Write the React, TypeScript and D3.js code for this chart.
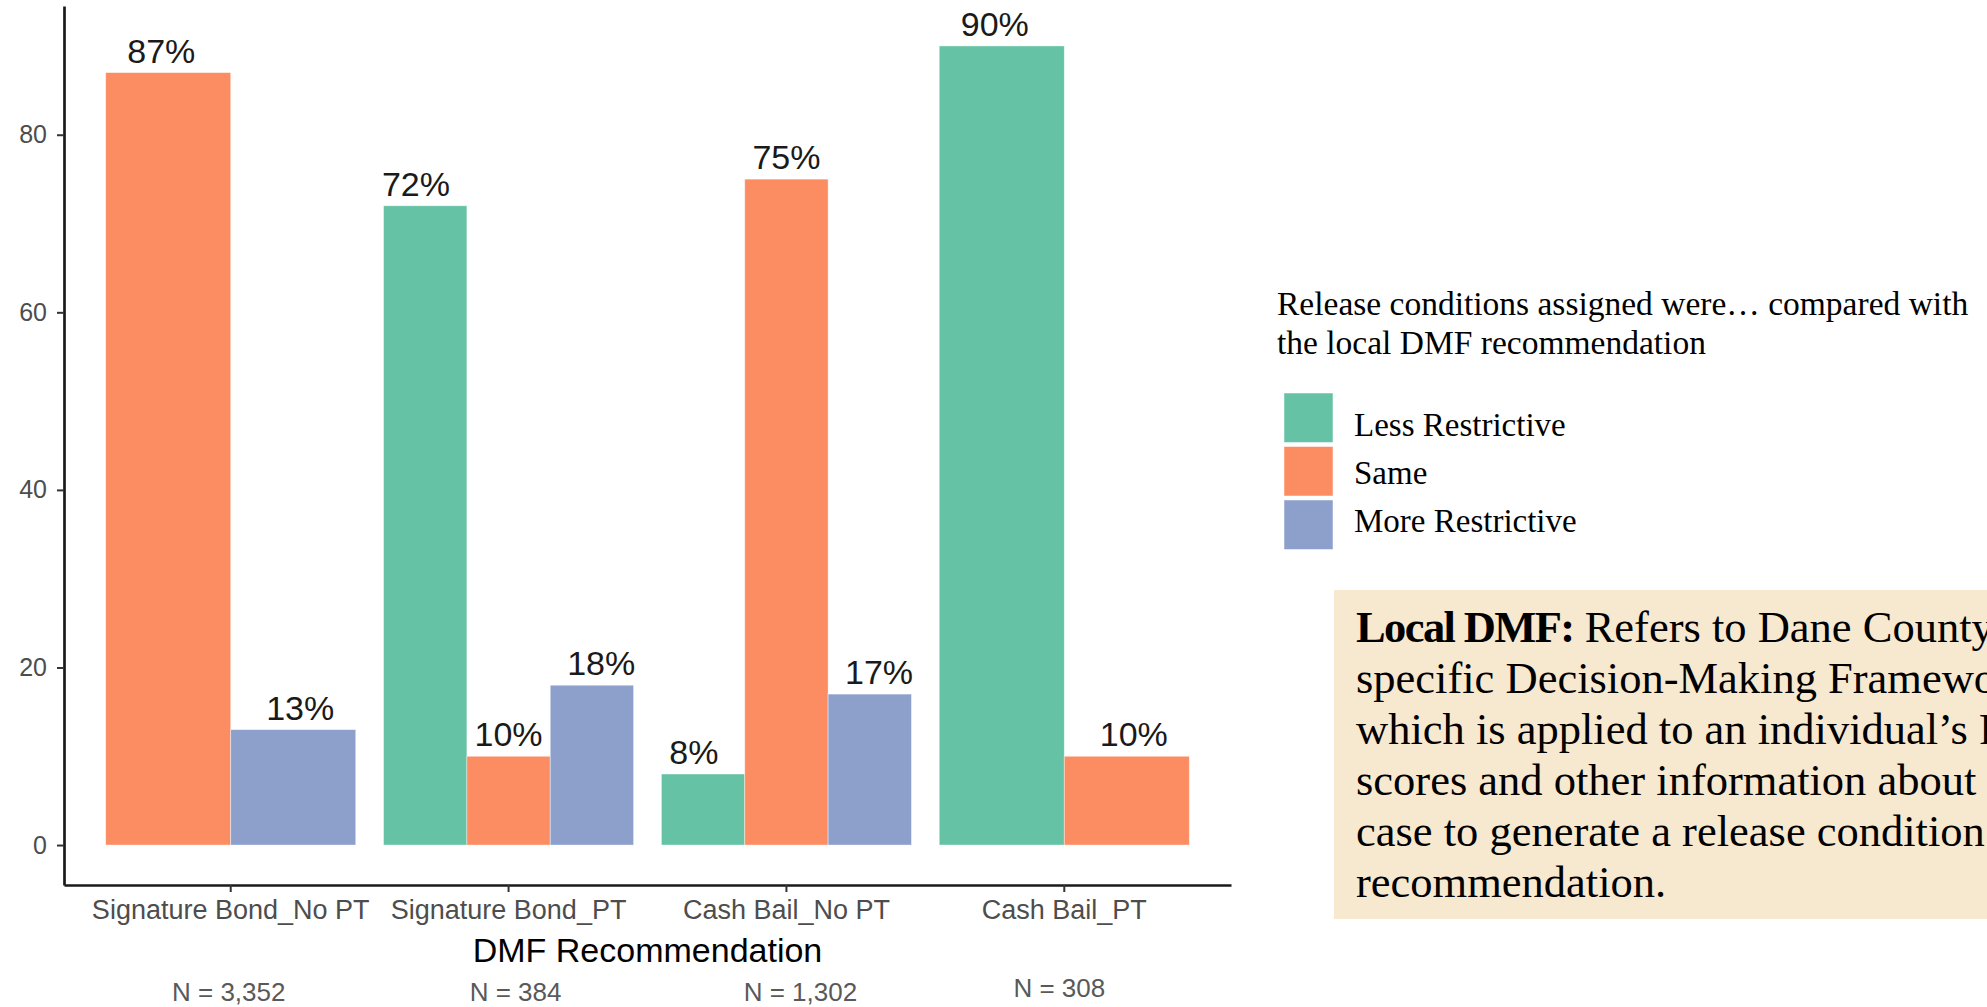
import { useRef, useEffect } from 'react'
import * as d3 from 'd3'

const CATEGORIES = ['Signature Bond_No PT', 'Signature Bond_PT', 'Cash Bail_No PT', 'Cash Bail_PT']
const SERIES = ['Less Restrictive', 'Same', 'More Restrictive']
const LESS_RESTRICTIVE: (number | null)[] = [null, 72, 8, 90]
const SAME: (number | null)[] = [87, 10, 75, 10]
const MORE_RESTRICTIVE: (number | null)[] = [13, 18, 17, null]
const N_LABELS = ['N = 3,352', 'N = 384', 'N = 1,302', 'N = 308']
const Y_TICKS = [0, 20, 40, 60, 80]

const LEGEND_TITLE = ['Release conditions assigned were\u2026 compared with', 'the local DMF recommendation']
const NOTE_LINES = [
  "Refers to Dane County\u2019s",
  'specific Decision-Making Framework,',
  'which is applied to an individual\u2019s PSA',
  'scores and other information about their',
  'case to generate a release condition',
  'recommendation.',
]

const COLORS: Record<string, string> = {
  'Less Restrictive': '#66c2a5',
  Same: '#fc8d62',
  'More Restrictive': '#8da0cb',
}

// slide text boxes under the axis are not exactly centred on the ticks
const N_OFFSET = [-2, 7, 14, -5]
const N_BASELINE = [1001, 1001, 1001, 997]

const SANS = '"Liberation Sans", Arial, Helvetica, sans-serif'
const SERIF = '"Liberation Serif", "Times New Roman", serif'

export default function App() {
  const svgRef = useRef<SVGSVGElement>(null)

  useEffect(() => {
    if (!svgRef.current) return
    const svg = d3.select(svgRef.current)
    svg.selectAll('*').remove()

    const values: Record<string, (number | null)[]> = {
      'Less Restrictive': LESS_RESTRICTIVE,
      Same: SAME,
      'More Restrictive': MORE_RESTRICTIVE,
    }

    const x = d3.scaleBand().domain(CATEGORIES).range([64, 1231]).paddingInner(0.1).paddingOuter(0.15)
    const y = d3.scaleLinear().domain([-4.5, 94.5]).range([885, 6])
    const step = x.step()

    const plot = svg.append('g')

    CATEGORIES.forEach((cat, i) => {
      const present = SERIES.filter((s) => values[s][i] != null)
      const x0 = x(cat) as number
      const center = x0 + x.bandwidth() / 2
      const inner = d3.scaleBand().domain(present).range([x0, x0 + x.bandwidth()])
      // text is dodged with width 1 while bars use 0.9
      const lab = d3.scaleBand().domain(present).range([center - step / 2, center + step / 2])

      const g = plot.append('g')
      g.selectAll('rect')
        .data(present)
        .join('rect')
        .attr('x', (s) => inner(s) as number)
        .attr('width', inner.bandwidth())
        .attr('y', (s) => y(values[s][i] as number))
        .attr('height', (s) => y(0) - y(values[s][i] as number))
        .attr('fill', (s) => COLORS[s])
        .attr('stroke', '#ffffff')
        .attr('stroke-opacity', 0.5)
        .attr('stroke-width', 0.8)

      g.selectAll('text')
        .data(present)
        .join('text')
        .attr('x', (s) => (lab(s) as number) + lab.bandwidth() / 2)
        .attr('y', (s) => y(values[s][i] as number) - 10)
        .attr('text-anchor', 'middle')
        .attr('font-family', SANS)
        .attr('font-size', 34)
        .attr('fill', '#1a1a1a')
        .text((s) => `${values[s][i]}%`)
    })

    // axes
    const yAxis = svg
      .append('g')
      .attr('transform', 'translate(64,0)')
      .call(d3.axisLeft(y).tickValues(Y_TICKS).tickSize(7).tickSizeOuter(0).tickPadding(10))
    const xAxis = svg
      .append('g')
      .attr('transform', 'translate(0,885)')
      .call(d3.axisBottom(x).tickSize(7).tickSizeOuter(0).tickPadding(8))

    for (const ax of [yAxis, xAxis]) {
      ax.select('.domain').attr('stroke', '#1a1a1a').attr('stroke-width', 2.7)
      ax.selectAll('.tick line').attr('stroke', '#333333').attr('stroke-width', 2)
      ax.selectAll('.tick text').attr('fill', '#4d4d4d').attr('font-family', SANS)
    }
    yAxis.selectAll('.tick text').attr('font-size', 25)
    xAxis.selectAll('.tick text').attr('font-size', 27)
    yAxis.attr('font-size', null)
    xAxis.attr('font-size', null)

    svg
      .append('text')
      .attr('x', (64 + 1231) / 2)
      .attr('y', 962)
      .attr('text-anchor', 'middle')
      .attr('font-family', SANS)
      .attr('font-size', 34)
      .attr('fill', '#000000')
      .text('DMF Recommendation')

    svg
      .append('g')
      .selectAll('text')
      .data(CATEGORIES)
      .join('text')
      .attr('x', (d, i) => (x(d) as number) + x.bandwidth() / 2 + N_OFFSET[i])
      .attr('y', (d, i) => N_BASELINE[i])
      .attr('text-anchor', 'middle')
      .attr('font-family', SANS)
      .attr('font-size', 26)
      .attr('fill', '#595959')
      .text((d, i) => N_LABELS[i])

    // legend
    const legend = svg.append('g')
    legend
      .selectAll('text.title')
      .data(LEGEND_TITLE)
      .join('text')
      .attr('class', 'title')
      .attr('x', 1277)
      .attr('y', (d, i) => 315 + i * 39)
      .attr('font-family', SERIF)
      .attr('font-size', 33.5)
      .attr('fill', '#000000')
      .text((d) => d)

    legend
      .selectAll('rect')
      .data(SERIES)
      .join('rect')
      .attr('x', 1284)
      .attr('y', (d, i) => 393 + i * 53.5)
      .attr('width', 49)
      .attr('height', 49.5)
      .attr('fill', (d) => COLORS[d])
      .attr('stroke', '#ffffff')
      .attr('stroke-opacity', 0.5)

    legend
      .selectAll('text.key')
      .data(SERIES)
      .join('text')
      .attr('class', 'key')
      .attr('x', 1354)
      .attr('y', (d, i) => 436 + i * 48)
      .attr('font-family', SERIF)
      .attr('font-size', 33)
      .attr('fill', '#000000')
      .text((d) => d)

    // definition box, runs off the right edge like the slide crop
    const note = svg.append('g')
    note
      .append('rect')
      .attr('x', 1334)
      .attr('y', 590)
      .attr('width', 700)
      .attr('height', 329)
      .attr('fill', '#f7e8d0')

    const noteText = note
      .append('text')
      .attr('font-family', SERIF)
      .attr('font-size', 44.5)
      .attr('fill', '#000000')

    NOTE_LINES.forEach((line, i) => {
      if (i === 0) {
        noteText
          .append('tspan')
          .attr('x', 1356)
          .attr('y', 642)
          .attr('font-weight', 700)
          .attr('letter-spacing', -1.6)
          .text('Local DMF:')
        noteText.append('tspan').text(' ' + line)
      } else {
        noteText
          .append('tspan')
          .attr('x', 1356)
          .attr('y', 642 + i * 51)
          .text(line)
      }
    })
  }, [])

  return (
    <>
      <style>{'body{margin:0;overflow:hidden;background:#fff}'}</style>
      <svg ref={svgRef} width={1987} height={1007} style={{ display: 'block', overflow: 'hidden' }} />
    </>
  )
}
